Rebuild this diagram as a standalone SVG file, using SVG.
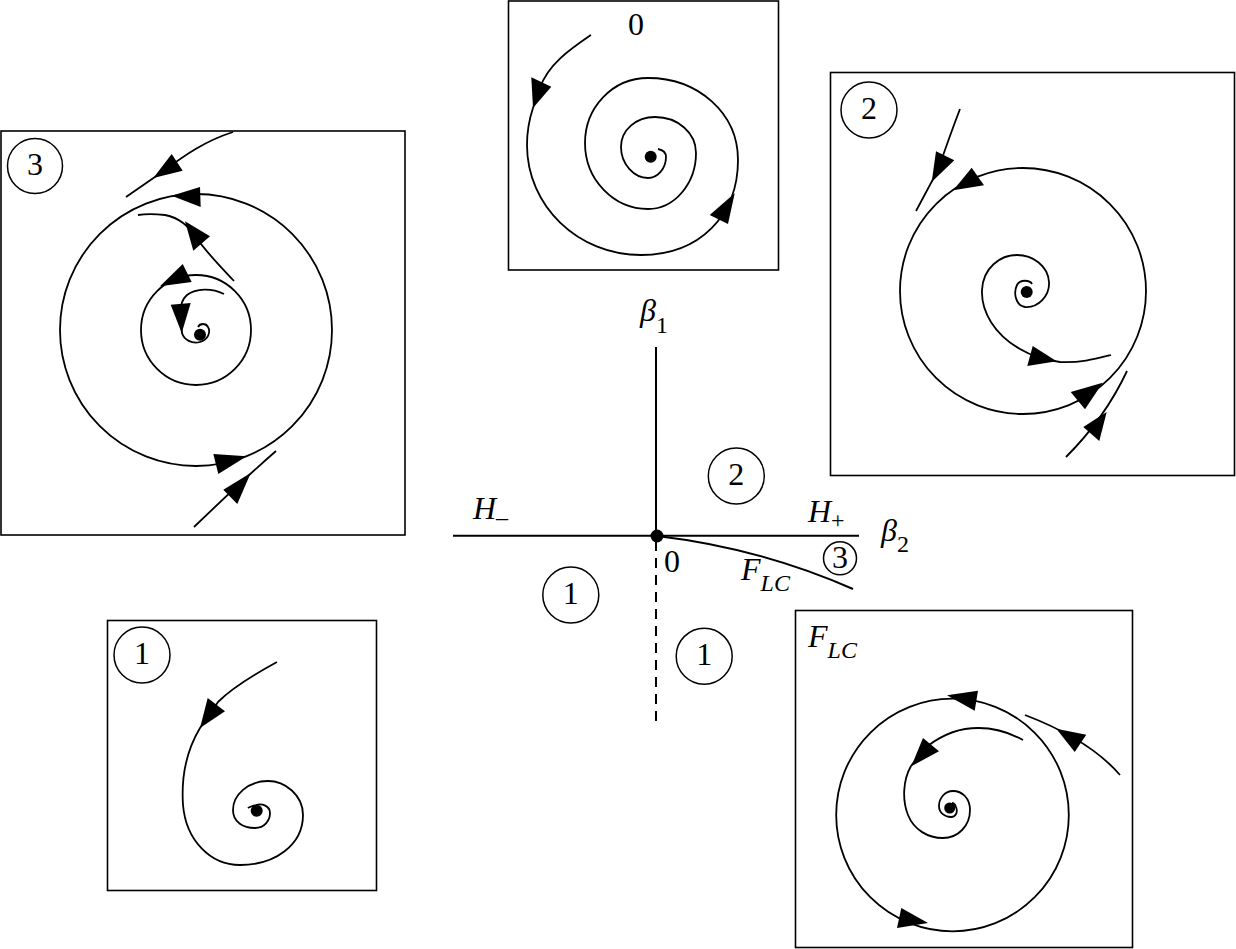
<svg xmlns="http://www.w3.org/2000/svg" width="1236" height="949" viewBox="0 0 1236 949">
<style>
.box{fill:none;stroke:#000;stroke-width:1.6}
.c{fill:none;stroke:#000;stroke-width:1.8}
.ax{fill:none;stroke:#000;stroke-width:2}
.ah{fill:#000;stroke:none}
.dot{fill:#000}
.lc{fill:#fff;stroke:#000;stroke-width:1.5}
.t{font-family:"Liberation Serif","Times New Roman",serif;font-size:32px;fill:#000}
.i{font-style:italic}
.s{font-size:24px}
</style>
<rect width="1236" height="949" fill="#fff"/>

<g id="panel-0">
<rect class="box" x="508.5" y="1" width="270" height="269"/>
<text class="t" x="636" y="35" text-anchor="middle">0</text>
<path class="c" d="M591,35 C572,48 548,64 540,88 L533,108 C529,120 527,132 527,145 C527,206 578,255 641,255 C700,255 738,215 738,160 C738,113 698,78 648,78 C612,78 585,108 585,143 C585,180 614,209 648,209 C675,209 696,183 696,153 C696,133 678,117 655,117 C636,117 621,130 621,147 C621,164 634,178 648,178 C658,178 666,168 666,157 C666,153 663,150 658,149"/>
<polygon class="ah" points="533,108 531.3,77.3 551.3,86.7"/>
<polygon class="ah" points="734.7,193.3 709.7,215 728,224"/>
<circle class="dot" cx="650.7" cy="156.7" r="6"/>
</g>

<g id="panel-2">
<rect class="box" x="830.5" y="72.5" width="404" height="403"/>
<circle class="lc" cx="869" cy="110" r="28"/>
<text class="t" x="869" y="119" text-anchor="middle">2</text>
<circle class="c" cx="1023" cy="291" r="123"/>
<path class="c" d="M960,109 Q950,135 938,170 L916,211"/>
<path class="c" d="M1066,457 Q1105,418 1127,371"/>
<path class="c" d="M1032,284 C1030,280 1020,279 1017,285 C1013,293 1016,306 1025,307 C1038,308 1050,296 1049,282 C1048,266 1033,255 1017,255 C1000,255 983,268 982,290 C981,312 995,335 1020,349 C1030,355 1045,360 1060,362 C1080,363 1095,359 1111,355"/>
<polygon class="ah" points="931.7,182 936,151.3 954.3,160.3"/>
<polygon class="ah" points="953.3,190.3 971.7,167.7 984,185.3"/>
<polygon class="ah" points="1102.7,382.7 1070.7,392 1085,409.3"/>
<polygon class="ah" points="1106.7,412 1083.3,427 1099.3,441"/>
<polygon class="ah" points="1056.7,361.3 1032.7,346 1027.3,366"/>
<circle class="dot" cx="1026.7" cy="292" r="6"/>
</g>

<g id="panel-3">
<rect class="box" x="1" y="131" width="404" height="404"/>
<circle class="lc" cx="35" cy="166" r="27.5"/>
<text class="t" x="35" y="175" text-anchor="middle">3</text>
<circle class="c" cx="196" cy="330" r="136"/>
<circle class="c" cx="196" cy="330" r="55"/>
<path class="c" d="M233,132 C205,141 185,155 165,170 L126,197"/>
<path class="c" d="M234,281 C220,266 205,251 196,237 C188,226 180,218 165,215 C155,214 145,214 138,215"/>
<path class="c" d="M224,294 C212,288 196,288 187,295 C181,300 180,308 180,315 L182,333 C184,340 192,344 200,342 C208,340 211,332 208,327 C206,323 200,323 198,327"/>
<path class="c" d="M194,527 Q245,478 276,451"/>
<polygon class="ah" points="153.3,178 171.7,154 182.7,170.7"/>
<polygon class="ah" points="171.7,195.7 200,187 200.7,207"/>
<polygon class="ah" points="185,221.3 193.3,250.7 210,236.3"/>
<polygon class="ah" points="160,286.3 182.7,264 191.7,282"/>
<polygon class="ah" points="181.7,333 170.7,304.7 190.7,303"/>
<polygon class="ah" points="246.7,456.3 213.3,454 218.3,474"/>
<polygon class="ah" points="250.7,473 223.3,489.7 237.3,504"/>
<circle class="dot" cx="200" cy="334.7" r="6"/>
</g>

<g id="panel-1">
<rect class="box" x="107.5" y="620.5" width="269" height="270"/>
<circle class="lc" cx="142" cy="655" r="28"/>
<text class="t" x="142" y="664" text-anchor="middle">1</text>
<path class="c" d="M277,662 C255,674 232,688 218,702 L200,728 C188,748 181,775 183,805 C186,840 210,865 240,865 C275,865 303,845 303,815 C303,795 285,781 268,781 C248,781 233,795 233,810 C233,822 243,828 255,828 C265,828 270,820 270,813 C270,806 262,803 256,805 C252,806 249,807 248,808"/>
<polygon class="ah" points="200,728 207.7,698 225,711.3"/>
<circle class="dot" cx="256.7" cy="810.7" r="6"/>
</g>

<g id="panel-flc">
<rect class="box" x="795.5" y="610.5" width="337" height="337"/>
<text class="t i" x="808" y="647">F<tspan class="s" dy="11">LC</tspan></text>
<circle class="c" cx="952.5" cy="815" r="116.3"/>
<path class="c" d="M1120,775 Q1090,740 1025,715"/>
<path class="c" d="M1023,740 C1005,730 985,726 965,729 C948,732 930,742 922,752 L911,766 C903,780 902,800 908,815 C914,830 928,838 943,838 C958,838 970,826 970,810 C970,798 962,791 953,791 C945,791 939,798 939,806 C939,813 945,817 951,817 C956,817 958,812 956,807 C955,804 953,803 952,803"/>
<polygon class="ah" points="947,695.3 978,690.7 974.7,710.7"/>
<polygon class="ah" points="928,923 901.3,908 897,928"/>
<polygon class="ah" points="1056.3,728.7 1074.7,752 1086.3,734.7"/>
<polygon class="ah" points="911.3,766.3 923,738 939,751.3"/>
<circle class="dot" cx="949.7" cy="808" r="5.5"/>
</g>

<g id="connectors">
<line class="ax" x1="656" y1="347" x2="656" y2="536"/>
<line class="ax" x1="453" y1="535.7" x2="859" y2="535.7"/>
<line class="ax" x1="656" y1="541" x2="656" y2="726" stroke-dasharray="10,7"/>
<path class="ax" d="M657,536 Q760,548 853,589"/>
</g>

<g id="origin">
<circle class="dot" cx="657" cy="536" r="6.5"/>
<text class="t" x="664" y="572">0</text>
</g>

<g id="axis-labels">
<text class="t i" x="640" y="321">β<tspan class="s" font-style="normal" dy="12">1</tspan></text>
<text class="t i" x="881" y="541">β<tspan class="s" font-style="normal" dy="11">2</tspan></text>
<text class="t i" x="473" y="519">H<tspan class="s" font-style="normal" dy="6">–</tspan></text>
<text class="t i" x="808" y="522">H<tspan class="s" font-style="normal" dy="6">+</tspan></text>
<text class="t i" x="741" y="580">F<tspan class="s" dy="11">LC</tspan></text>
</g>

<g id="region-2">
<circle class="lc" cx="736.3" cy="476" r="28"/>
<text class="t" x="736.3" y="485" text-anchor="middle">2</text>
</g>
<g id="region-1a">
<circle class="lc" cx="570.8" cy="595" r="28"/>
<text class="t" x="570.8" y="604" text-anchor="middle">1</text>
</g>
<g id="region-1b">
<circle class="lc" cx="704.2" cy="656.2" r="28"/>
<text class="t" x="704.2" y="665.2" text-anchor="middle">1</text>
</g>
<g id="region-3">
<circle class="lc" cx="840" cy="558.3" r="16.5"/>
<text class="t" x="840" y="568" text-anchor="middle">3</text>
</g>
</svg>
